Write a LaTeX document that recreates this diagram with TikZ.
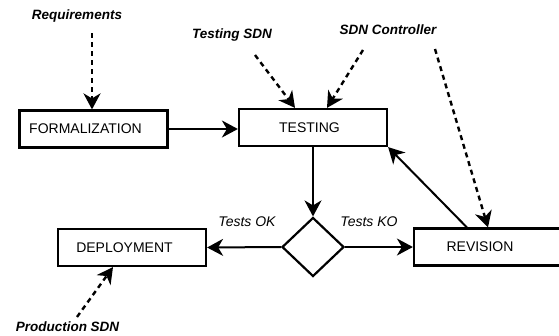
\documentclass[tikz,border=0pt]{standalone}
\usepackage{fontspec}
\setmainfont{Liberation Sans}
\usetikzlibrary{arrows.meta,shapes.geometric}
\begin{document}
\begin{tikzpicture}[x=1pt,y=-1pt,
  every node/.style={font=\fontsize{14}{16}\selectfont},
  box/.style={draw,line width=2.2pt,minimum width=148pt,minimum height=37pt,inner sep=0pt},
  note/.style={font=\fontsize{13.5}{16}\selectfont\bfseries\itshape,inner sep=0pt},
  elabel/.style={font=\fontsize{14}{16}\selectfont\itshape,inner sep=0pt},
  flow/.style={line width=2pt,-{Stealth[length=16pt,width=17pt,inset=5pt]}},
  input/.style={line width=2.4pt,dash pattern=on 5pt off 4pt,-{Stealth[length=16pt,width=17pt,inset=5pt]}}
]
\useasboundingbox (0,0) rectangle (559,335);

\node[box,label={[xshift=-8pt]center:FORMALIZATION}] (form) at (93.5,129) {};
\node[box,label={[xshift=-3.5pt]center:TESTING}] (test) at (313,127.5) {};
\node[box,label={[xshift=-7.5pt]center:DEPLOYMENT}] (dep) at (132,247.5) {};
\node[box,minimum width=150pt,label={[xshift=-9pt]center:REVISION}] (rev) at (489,247) {};
\node[draw,diamond,line width=2.2pt,minimum width=62pt,minimum height=59pt,inner sep=0pt] (dia) at (313,247) {};

\node[note] (req) at (77,16) {Requirements};
\node[note] (tsdn) at (232,35) {Testing SDN};
\node[note] (ctrl) at (388,30) {SDN Controller};
\node[note] (prod) at (67.5,327) {Production SDN};

\node[elabel] (ok) at (247,222) {Tests OK};
\node[elabel] (ko) at (369,222) {Tests KO};

\coordinate (reqs) at (92,33);
\coordinate (tsdns) at (255,55);
\coordinate (ctrls1) at (363,50);
\coordinate (ctrls2) at (435,49);
\coordinate (prods) at (77,317);

\draw[input] (reqs) -- (reqs |- form.north);
\draw[input] (tsdns) -- ([xshift=-18pt]test.north);
\draw[input] (ctrls1) -- ([xshift=14pt]test.north);
\draw[input] (ctrls2) -- ([xshift=-1pt]rev.north);
\draw[input] (prods) -- ([xshift=-19pt]dep.south);

\draw[flow] (form.east) -- (test.west |- form.east);
\draw[flow] (test.south) -- (dia.north);
\draw[flow] (dia.west) -- (dep.east);
\draw[flow] (dia.east) -- (rev.west);
\draw[flow] ([xshift=54pt]rev.north west) -- (test.south east);
\end{tikzpicture}
\end{document}
